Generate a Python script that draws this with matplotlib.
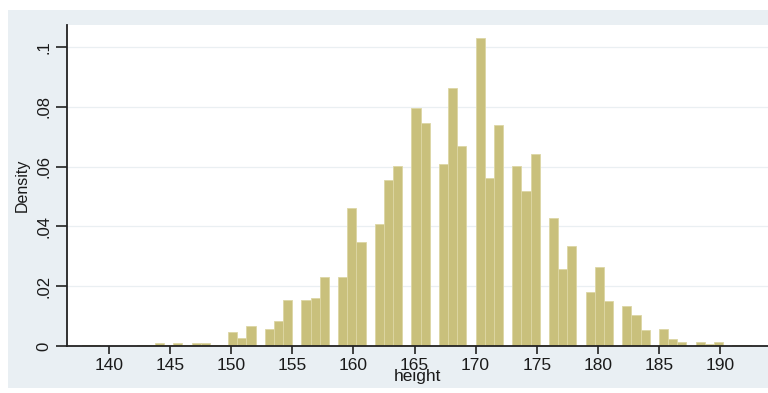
import matplotlib
matplotlib.use("Agg")
import numpy as np
import matplotlib.pyplot as plt
from matplotlib.patches import Rectangle

plt.rcParams['font.family'] = ['Liberation Sans', 'DejaVu Sans']

# histogram of height, bin width 0.75 starting at 137.75
bin_start = 137.75
bin_width = 0.75
density = [
    0.0003, 0.0002, 0.0, 0.0, 0.0, 0.0, 0.0002, 0.0003,          # 137.75 .. 143
    0.0011, 0.0004, 0.0011, 0.0002, 0.0011, 0.0011, 0.0003, 0.0002,  # 143.75 .. 149
    0.0047, 0.0026, 0.0068, 0.0,                                  # 149.75 .. 152
    0.0057, 0.0083, 0.0154, 0.0,                                  # 152.75 .. 155
    0.0154, 0.0160, 0.0232, 0.0,                                  # 155.75 .. 158
    0.0232, 0.0463, 0.0349, 0.0,                                  # 158.75 .. 161
    0.0407, 0.0555, 0.0602, 0.0004,                               # 161.75 .. 164
    0.0797, 0.0745, 0.0,                                          # 164.75 .. 166.25
    0.0608, 0.0864, 0.0669, 0.0004,                               # 167 .. 169.25
    0.1032, 0.0561, 0.0741, 0.0,                                  # 170 .. 172.25
    0.0602, 0.0518, 0.0644, 0.0004,                               # 173 .. 175.25
    0.0429, 0.0256, 0.0336, 0.0,                                  # 176 .. 178.25
    0.0182, 0.0263, 0.0151, 0.0,                                  # 179 .. 181.25
    0.0135, 0.0104, 0.0054, 0.0,                                  # 182 .. 184.25
    0.0058, 0.0022, 0.0012, 0.0,                                  # 185 .. 187.25
    0.0012, 0.0008, 0.0013, 0.0, 0.0002, 0.0002,                  # 188 .. 191.75
]
x_ticks = [140, 145, 150, 155, 160, 165, 170, 175, 180, 185, 190]
y_ticks = [0, 0.02, 0.04, 0.06, 0.08, 0.1]
y_ticklabels = ['0', '.02', '.04', '.06', '.08', '.1']

lefts = bin_start + bin_width * np.arange(len(density))

W, H = 768, 393
fig = plt.figure(figsize=(W / 100, H / 100), dpi=100)
fig.patch.set_facecolor('white')
fig.patches.append(Rectangle((8 / W, 5 / H), 760 / W, 378 / H, transform=fig.transFigure,
                             facecolor='#e9eff3', edgecolor='none', zorder=-10))

ax = fig.add_axes([67 / W, (H - 346) / H, (W - 67) / W, (346 - 25) / H])
ax.set_facecolor('white')
ax.bar(lefts, density, width=bin_width, align='edge', color='#c9c07c',
       edgecolor='#ddd6a4', linewidth=0.6, zorder=2)

ax.set_xlim(136.56, 193.93)
ax.set_ylim(0, 0.1074)
ax.set_xticks(x_ticks)
ax.set_yticks(y_ticks)
ax.set_yticklabels(y_ticklabels, rotation=90, va='center')
ax.tick_params(axis='x', length=6, width=1.2, color='#222222', labelsize=12.5,
               labelcolor='#1a1a1a', pad=3)
ax.tick_params(axis='y', length=8, width=1.2, color='#222222', labelsize=12,
               labelcolor='#1a1a1a', pad=3)
ax.grid(axis='y', color='#eaeff2', lw=0.9, zorder=1)
ax.set_axisbelow(True)

for s in ['top', 'right']:
    ax.spines[s].set_visible(False)
for s in ['left', 'bottom']:
    ax.spines[s].set_color('#222222')
    ax.spines[s].set_linewidth(1.3)

ax.set_xlabel('height', fontsize=12.5, color='#1a1a1a', labelpad=-3)
ax.set_ylabel('Density', fontsize=11.5, color='#1a1a1a', labelpad=5)

fig.savefig('out.png', dpi=100, facecolor=fig.get_facecolor())
